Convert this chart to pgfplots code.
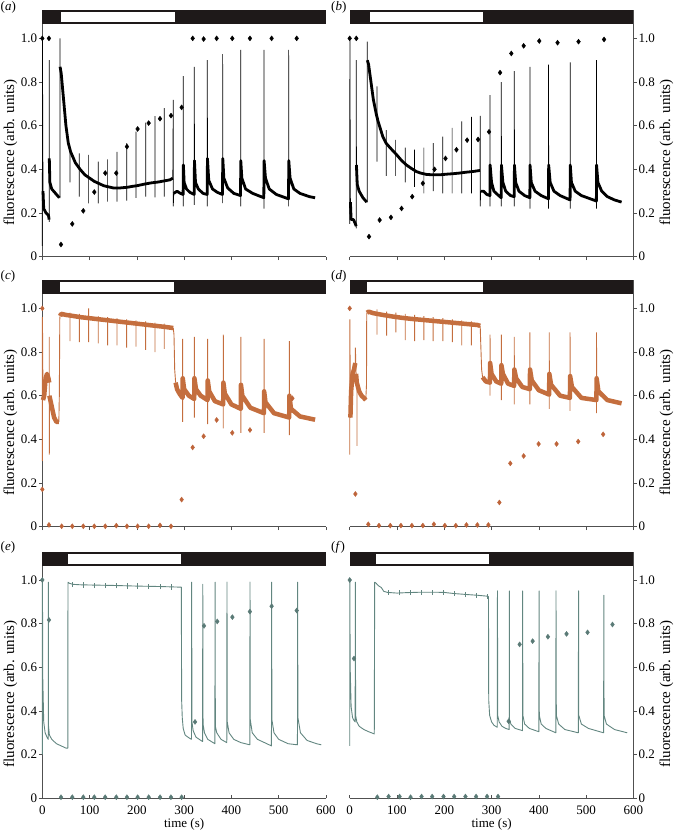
\documentclass[border=0pt]{standalone}
\usepackage{fontspec}
\setmainfont{Liberation Serif}
\usepackage{pgfplots}
\usepackage{pgfplotstable}
\pgfplotsset{compat=1.18}
\definecolor{ora}{RGB}{196,110,62}
\definecolor{orm}{RGB}{190,100,58}
\definecolor{tea}{RGB}{98,134,128}
\definecolor{team}{RGB}{90,122,118}
\definecolor{barb}{RGB}{30,25,25}
\definecolor{axc}{RGB}{80,80,80}
\newcommand\tk{\fontsize{13}{13}\selectfont}
\newcommand\ylf{\fontsize{15}{15}\selectfont}

% ---------------- panel (a) ----------------
\pgfplotstableread{
x y
1.5 0.3
3 0.22
8 0.2
13 0.19
14.5 0.17
nan nan
14.8 0.45
16 0.34
20 0.31
28 0.29
36 0.27
nan nan
37.6 0.87
40 0.84
45 0.72
50 0.6
55 0.52
60 0.48
70 0.43
80 0.40
90 0.375
100 0.36
110 0.345
120 0.335
130 0.325
140 0.32
150 0.315
165 0.315
180 0.318
190 0.322
200 0.325
215 0.332
230 0.338
245 0.342
260 0.348
270 0.352
276 0.36
nan nan
278 0.29
285 0.3
292 0.29
297.8 0.285
298.4 0.42
300 0.34
305 0.31
312 0.295
321.2 0.285
321.8 0.44
324 0.34
330 0.31
340 0.29
348.7 0.285
349.3 0.45
352 0.35
360 0.31
370 0.295
381 0.285
381.7 0.45
384 0.36
392 0.315
405 0.29
419.2 0.28
419.8 0.44
422 0.36
430 0.31
445 0.29
468.5 0.27
469.1 0.44
472 0.36
480 0.31
495 0.285
520.7 0.265
521.3 0.44
524 0.36
532 0.31
545 0.29
565 0.275
577 0.27
}\baseA
\pgfplotstableread{
x y
0 0.05
0.3 1.0
1.5 0.3
nan nan
14.5 0.16
14.5 0.9
14.8 0.45
nan nan
36 0.27
37.4 0.27
37.4 1.0
37.6 0.87
nan nan
58.5 0.34
58.5 0.5
nan nan
78.3 0.275
78.3 0.473
nan nan
98 0.244
98 0.466
nan nan
118.4 0.244
118.4 0.435
nan nan
138.2 0.252
138.2 0.446
nan nan
157.9 0.252
157.9 0.48
nan nan
178.4 0.257
178.4 0.52
nan nan
198.1 0.27
198.1 0.573
nan nan
218.6 0.275
218.6 0.614
nan nan
238.3 0.272
238.3 0.644
nan nan
258 0.275
258 0.68
nan nan
276 0.36
277 0.718
277 0.23
278 0.29
nan nan
298.2 0.23
298.2 0.827
298.4 0.42
nan nan
321.5 0.237
321.5 0.87
321.8 0.44
nan nan
349 0.23
349 0.9
349.3 0.45
nan nan
381.4 0.245
381.4 0.928
381.7 0.45
nan nan
419.5 0.23
419.5 0.947
419.8 0.44
nan nan
468.8 0.22
468.8 0.947
469.1 0.44
nan nan
521 0.23
521 0.947
521.3 0.44
}\spkA
\pgfplotstableread{
x y
0 1.0
14.1 1.0
39.5 0.056
63.4 0.15
86.7 0.21
110 0.296
133.2 0.383
156.5 0.383
179 0.504
201.6 0.585
224.9 0.612
248.9 0.632
272.2 0.646
294.7 0.684
318 1.0
341.2 0.997
368.7 1.0
401.8 1.0
439.2 1.0
485 1.0
538 1.0
}\mkA

% ---------------- panel (b) ----------------
\pgfplotstableread{
x y
1.5 0.25
3 0.17
8 0.17
12 0.15
13.8 0.14
nan nan
14.2 0.42
16 0.33
20 0.3
28 0.27
36 0.25
nan nan
37.3 0.9
40 0.88
45 0.8
50 0.72
56 0.655
60 0.62
70 0.55
77 0.52
85 0.5
98 0.47
110 0.44
120 0.42
130 0.405
141 0.39
150 0.383
162 0.377
175 0.375
190 0.375
205 0.378
218 0.38
232 0.383
246 0.387
260 0.39
275.5 0.395
nan nan
277 0.3
283 0.3
290 0.285
296.6 0.28
297 0.42
300 0.34
305 0.3
315 0.28
320.5 0.27
320.9 0.42
324 0.34
330 0.3
340 0.28
348 0.275
348.4 0.42
351 0.34
358 0.3
370 0.28
381 0.27
381.4 0.42
384 0.34
392 0.3
405 0.28
420.4 0.265
420.8 0.42
424 0.34
432 0.3
445 0.28
466.1 0.26
466.5 0.42
469 0.34
477 0.3
490 0.28
521.7 0.255
522.1 0.42
525 0.34
533 0.3
545 0.275
560 0.26
575 0.25
}\baseB
\pgfplotstableread{
x y
0 0.15
0.4 1.0
1.5 0.25
nan nan
13.8 0.13
14 0.9
14.2 0.42
nan nan
36 0.25
37 0.25
37 0.985
37.3 0.9
nan nan
57.7 0.435
57.7 0.78
nan nan
77.4 0.37
77.4 0.58
nan nan
97.1 0.37
97.1 0.535
nan nan
117.5 0.34
117.5 0.5
nan nan
137.2 0.32
137.2 0.49
nan nan
156.9 0.29
156.9 0.5
nan nan
176.5 0.3
176.5 0.52
nan nan
197 0.29
197 0.55
nan nan
216.6 0.29
216.6 0.59
nan nan
237 0.29
237 0.62
nan nan
257.4 0.29
257.4 0.64
nan nan
275.5 0.395
276 0.645
276 0.23
277 0.3
nan nan
296.8 0.23
296.8 0.74
297 0.42
nan nan
320.7 0.23
320.7 0.8
320.9 0.42
nan nan
348.2 0.23
348.2 0.85
348.4 0.42
nan nan
381.2 0.22
381.2 0.87
381.4 0.42
nan nan
420.6 0.22
420.6 0.88
420.8 0.42
nan nan
466.3 0.22
466.3 0.89
466.5 0.42
nan nan
521.9 0.22
521.9 0.9
522.1 0.42
}\spkB
\pgfplotstableread{
x y
0 1.0
14 1.0
40.8 0.092
63.3 0.168
87.2 0.18
109.7 0.221
132.2 0.275
154.7 0.336
179.4 0.4
202.6 0.45
225.8 0.49
248.3 0.534
271.5 0.537
294.7 0.572
318 0.843
341.8 0.931
367.9 0.966
401 0.988
439.6 0.98
484 0.985
538 0.995
}\mkB

% ---------------- panel (c) ----------------
\pgfplotstableread{
x y
1.5 0.58
4 0.6
7 0.68
10 0.7
13 0.68
14.6 0.66
nan nan
15 0.6
20 0.55
25 0.5
30 0.48
35 0.48
nan nan
37.5 0.965
40 0.975
50 0.97
60 0.967
80 0.96
100 0.955
120 0.95
140 0.945
160 0.94
180 0.935
200 0.93
220 0.925
240 0.92
260 0.915
277 0.91
nan nan
282 0.66
285 0.63
290 0.61
296.6 0.59
297 0.68
300 0.63
310 0.6
321.3 0.585
321.7 0.68
325 0.63
335 0.6
349.5 0.58
349.9 0.67
353 0.62
365 0.575
382.6 0.56
383 0.66
386 0.61
400 0.56
419.8 0.54
420.2 0.65
423 0.6
440 0.545
468.8 0.52
469.2 0.62
472 0.57
490 0.52
522.2 0.5
522.6 0.6
526 0.54
545 0.505
577 0.49
}\baseC
\pgfplotstableread{
x y
0 0.3
0.3 0.96
1.5 0.58
nan nan
14.6 0.66
14.8 0.87
14.8 0.33
15 0.6
nan nan
35 0.48
36 0.6
37 0.95
37.5 0.965
nan nan
58.5 0.85
58.5 0.98
nan nan
78.3 0.845
78.3 0.975
nan nan
98 0.845
98 1.0
nan nan
118.4 0.84
118.4 0.965
nan nan
138.2 0.83
138.2 0.96
nan nan
157.9 0.83
157.9 0.955
nan nan
178.4 0.82
178.4 0.95
nan nan
198.1 0.825
198.1 0.945
nan nan
218.6 0.81
218.6 0.94
nan nan
238.3 0.8
238.3 0.935
nan nan
258 0.815
258 0.93
nan nan
277 0.91
278.5 0.88
280 0.72
282 0.66
nan nan
296.8 0.48
296.8 0.86
297 0.68
nan nan
321.5 0.5
321.5 0.87
321.7 0.68
nan nan
349.7 0.47
349.7 0.86
349.9 0.67
nan nan
382.8 0.45
382.8 0.88
383 0.66
nan nan
420 0.43
420 0.87
420.2 0.65
nan nan
469 0.43
469 0.86
469.2 0.62
nan nan
522.4 0.42
522.4 0.85
522.6 0.6
}\spkC
\pgfplotstableread{
x y
0 1.0
0 0.171
14.1 0.008
40.9 0.002
63.4 0.002
86.7 0.002
110 0.002
133.2 0.002
156.5 0.005
179 0.002
201.6 0.002
224.9 0.002
248.9 0.006
272.2 0.002
294.7 0.124
318 0.363
341.2 0.414
368.7 0.489
401.8 0.43
439.2 0.443
529 0.588
}\mkC

% ---------------- panel (d) ----------------
\pgfplotstableread{
x y
1.5 0.5
3 0.62
6 0.7
9 0.72
11.8 0.75
nan nan
13.5 0.7
15 0.66
20 0.62
25 0.6
30 0.59
34 0.58
nan nan
36.5 0.98
40 0.985
50 0.978
70 0.97
90 0.963
110 0.957
130 0.952
150 0.948
170 0.944
190 0.94
210 0.936
230 0.932
250 0.928
270 0.924
276 0.92
nan nan
281 0.685
288 0.665
296.6 0.66
297 0.75
300 0.7
310 0.665
320.5 0.655
320.9 0.74
324 0.7
335 0.655
347.8 0.645
348.2 0.72
352 0.68
365 0.64
381 0.63
381.4 0.72
385 0.67
400 0.625
421.8 0.605
422.2 0.7
426 0.65
445 0.6
465.8 0.59
466.2 0.69
470 0.64
490 0.59
521.8 0.58
522.2 0.68
526 0.62
545 0.58
575 0.565
}\baseD
\pgfplotstableread{
x y
0 0.33
0.3 0.95
1.5 0.5
nan nan
11.8 0.75
12 0.82
13.5 0.7
nan nan
15.5 0.66
15.5 0.37
nan nan
34 0.58
35.5 0.65
36 0.975
36.5 0.98
nan nan
57.7 0.88
57.7 0.995
nan nan
78 0.875
78 0.985
nan nan
97.8 0.89
97.8 0.98
nan nan
117.5 0.855
117.5 0.975
nan nan
137.2 0.85
137.2 0.97
nan nan
156.9 0.855
156.9 0.965
nan nan
176.5 0.85
176.5 0.96
nan nan
197 0.85
197 0.955
nan nan
217.3 0.845
217.3 0.95
nan nan
237 0.83
237 0.945
nan nan
257.4 0.83
257.4 0.94
nan nan
276 0.92
277 0.85
279 0.72
281 0.685
nan nan
296.8 0.6
296.8 0.88
297 0.75
nan nan
320.7 0.58
320.7 0.88
320.9 0.74
nan nan
348 0.56
348 0.87
348.2 0.72
nan nan
381.2 0.56
381.2 0.89
381.4 0.72
nan nan
422 0.54
422 0.89
422.2 0.7
nan nan
466 0.53
466 0.89
466.2 0.69
nan nan
522 0.52
522 0.89
522.2 0.68
}\spkD
\pgfplotstableread{
x y
0 1.0
12 0.15
39.4 0.011
61.9 0.005
85.8 0.005
108.3 0.005
131.5 0.005
154.7 0.005
178 0.011
201.2 0.005
224.4 0.005
246.9 0.008
270 0.008
293.3 0.008
316.5 0.111
339.7 0.29
367.9 0.324
399.5 0.379
437.5 0.379
483.2 0.39
536 0.423
}\mkD

% ---------------- panel (e) ----------------
\pgfplotstableread{
x y
0 0.2
0.3 1.0
1 0.55
3 0.35
6 0.3
10 0.28
12.5 0.27
12.7 0.99
13.2 0.33
15 0.29
20 0.27
30 0.25
40 0.24
50 0.23
54 0.23
54.3 0.99
57 0.985
65 0.98
80 0.978
100 0.977
150 0.975
200 0.972
250 0.97
294 0.967
294.7 0.45
296 0.37
298 0.32
302 0.29
308 0.28
315.5 0.27
315.9 0.99
316.5 0.35
319 0.31
325 0.28
339 0.26
339.4 0.98
340 0.34
343 0.3
350 0.27
365 0.25
365.4 0.99
366 0.33
369 0.3
378 0.27
390.2 0.255
390.6 0.99
391.2 0.35
395 0.3
405 0.27
420 0.255
438.9 0.245
439.3 0.99
439.9 0.36
444 0.3
455 0.27
470 0.255
484.6 0.24
485 0.99
485.6 0.36
490 0.3
500 0.27
520 0.25
539.6 0.245
540 0.99
540.6 0.37
546 0.3
560 0.265
580 0.25
590 0.245
}\trE
\pgfplotstableread{
x y
63.5 0.967
63.5 0.99
nan nan
86.7 0.965
86.7 0.99
nan nan
110 0.963
110 0.988
nan nan
133 0.963
133 0.988
nan nan
156.5 0.962
156.5 0.986
nan nan
179 0.96
179 0.985
nan nan
201.6 0.96
201.6 0.984
nan nan
225 0.958
225 0.982
nan nan
249 0.957
249 0.981
nan nan
272 0.955
272 0.98
}\tkE
\pgfplotstableread{
x y
0 1.0
14.1 0.817
39.5 0.005
63.5 0.005
86.7 0.005
110 0.005
133 0.005
156.5 0.005
179 0.005
201.6 0.005
225 0.005
249 0.005
272 0.005
294.7 0.005
323 0.35
342 0.79
370 0.81
402 0.83
439 0.855
485 0.88
538 0.86
}\mkE

% ---------------- panel (f) ----------------
\pgfplotstableread{
x y
0 0.24
0.3 1.0
1 0.6
3 0.42
6 0.37
8 0.36
11.5 0.35
12 0.99
12.5 0.38
15 0.35
20 0.33
30 0.315
40 0.305
52 0.295
52.8 0.99
56 0.985
60 0.975
67 0.965
72 0.948
80 0.943
100 0.94
120 0.942
150 0.944
180 0.944
200 0.943
220 0.938
250 0.933
270 0.93
290 0.926
293.5 0.924
294 0.45
296 0.38
300 0.35
305 0.335
312 0.325
312.5 0.95
313 0.38
316 0.35
322 0.33
330 0.32
337.3 0.315
337.6 0.95
338 0.36
341 0.34
350 0.32
365.5 0.31
365.8 0.95
366.3 0.38
370 0.34
380 0.32
400 0.305
400.5 0.95
401 0.38
405 0.34
415 0.32
436 0.3
436.3 0.95
437 0.38
442 0.34
455 0.315
483.5 0.3
484 0.95
484.5 0.38
490 0.34
505 0.32
537 0.3
537.5 0.93
538 0.38
543 0.34
560 0.315
587 0.3
}\trF
\pgfplotstableread{
x y
82.3 0.932
82.3 0.955
nan nan
105.5 0.93
105.5 0.953
nan nan
128.7 0.931
128.7 0.954
nan nan
152 0.933
152 0.956
nan nan
174.4 0.933
174.4 0.956
nan nan
198.4 0.932
198.4 0.955
nan nan
220.9 0.927
220.9 0.95
nan nan
244.8 0.922
244.8 0.945
nan nan
267.3 0.919
267.3 0.942
nan nan
290.5 0.915
290.5 0.938
}\tkF
\pgfplotstableread{
x y
0 1.0
9.1 0.64
58.4 0.005
82.3 0.008
105.5 0.008
128.7 0.005
152 0.008
174.4 0.008
198.4 0.008
220.9 0.008
244.8 0.008
267.3 0.008
290.5 0.008
313.7 0.008
336.2 0.353
359.4 0.705
386.9 0.72
419.2 0.74
458.6 0.753
503 0.76
555.7 0.796
}\mkF

\pgfplotsset{
  panel/.style={
    scale only axis, width=283.7pt, height=246.7pt, anchor=south west,
    xmin=0, xmax=600, ymin=0, ymax=1.13, clip=false,
    axis x line*=bottom,
    axis line style={axc, line width=0.6pt},
    xtick={0,100,200,300,400,500,600},
    ytick={0,0.2,0.4,0.6,0.8,1.0},
    yticklabels={0,0.2,0.4,0.6,0.8,1.0},
    tick style={axc, line width=0.6pt},
    major tick length=3.5pt,
    tick align=outside,
    yticklabel style={font=\tk, inner sep=1.5pt},
    xticklabel style={font=\tk, inner sep=0.5pt, yshift=-3.5pt},
    unbounded coords=jump,
  },
  panelL/.style={panel, axis y line*=left},
  panelR/.style={panel, axis y line*=right},
  toprow/.style={xticklabels={}},
  botrow/.style={xticklabels={0,100,200,300,400,500,600}, x tick style={/pgfplots/tick align=inside}},
}
\newcommand\lightbar[2]{%
  \fill[barb] (axis cs:0,1.065) rectangle (axis cs:600,1.13);
  \filldraw[fill=white, draw=barb, line width=0.4pt] (axis cs:#1,1.072) rectangle (axis cs:#2,1.123);
}

\begin{document}
\begin{tikzpicture}
\useasboundingbox (0,0) rectangle (673pt,831pt);

% (a)
\begin{axis}[panelL, toprow, at={(42.3pt,574.3pt)}]
  \lightbar{37.4}{280.7}
  \addplot[black, line width=2.8pt, line join=round] table {\baseA};
  \addplot[black, line width=0.7pt] table {\spkA};
  \addplot[only marks, mark=diamond*, mark size=2.5pt, black] table {\mkA};
\end{axis}
% (b)
\begin{axis}[panelR, toprow, at={(349.7pt,574.3pt)}]
  \lightbar{40.8}{282.8}
  \addplot[black, line width=2.8pt, line join=round] table {\baseB};
  \addplot[black, line width=0.7pt] table {\spkB};
  \addplot[only marks, mark=diamond*, mark size=2.5pt, black] table {\mkB};
\end{axis}
% (c)
\begin{axis}[panelL, toprow, at={(42.3pt,304.3pt)}]
  \lightbar{35.3}{278.5}
  \addplot[ora, line width=4.5pt, line join=round] table {\baseC};
  \addplot[ora, line width=0.9pt] table {\spkC};
  \addplot[only marks, mark=diamond*, mark size=2.5pt, orm] table {\mkC};
\end{axis}
% (d)
\begin{axis}[panelR, toprow, at={(349.7pt,304.3pt)}]
  \lightbar{35}{283}
  \addplot[ora, line width=4.5pt, line join=round] table {\baseD};
  \addplot[ora, line width=0.9pt] table {\spkD};
  \addplot[only marks, mark=diamond*, mark size=2.5pt, orm] table {\mkD};
\end{axis}
% (e)
\begin{axis}[panelL, botrow, at={(42.3pt,32.7pt)}]
  \lightbar{52.9}{294.8}
  \addplot[tea, line width=0.9pt, line join=round] table {\trE};
  \addplot[tea, line width=0.7pt] table {\tkE};
  \addplot[only marks, mark=diamond*, mark size=2.5pt, team] table {\mkE};
\end{axis}
% (f)
\begin{axis}[panelR, botrow, at={(349.7pt,32.7pt)}]
  \lightbar{54.9}{294}
  \addplot[tea, line width=0.9pt, line join=round] table {\trF};
  \addplot[tea, line width=0.7pt] table {\tkF};
  \addplot[only marks, mark=diamond*, mark size=2.5pt, team] table {\mkF};
\end{axis}

% panel letters
\node[anchor=west, font=\tk, inner sep=0pt] at (0.5pt,823.5pt) {(\textit{a})};
\node[anchor=west, font=\tk, inner sep=0pt] at (331pt,823.5pt) {(\textit{b})};
\node[anchor=west, font=\tk, inner sep=0pt] at (0.5pt,554.3pt) {(\textit{c})};
\node[anchor=west, font=\tk, inner sep=0pt] at (331pt,554.3pt) {(\textit{d})};
\node[anchor=west, font=\tk, inner sep=0pt] at (0.5pt,283.5pt) {(\textit{e})};
\node[anchor=west, font=\tk, inner sep=0pt] at (331pt,283.5pt) {(\textit{f})};

% y labels
\foreach \yy in {678.5,408.5,136.9}{
  \node[rotate=90, font=\ylf, inner sep=0pt] at (10.5pt,\yy pt) {fluorescence (arb. units)};
  \node[rotate=90, font=\ylf, inner sep=0pt] at (666.5pt,\yy pt) {fluorescence (arb. units)};
}
% x labels
\node[font=\tk, inner sep=0pt, anchor=south] at (184.1pt,0.3pt) {time (s)};
\node[font=\tk, inner sep=0pt, anchor=south] at (491.6pt,0.3pt) {time (s)};
\end{tikzpicture}
\end{document}
